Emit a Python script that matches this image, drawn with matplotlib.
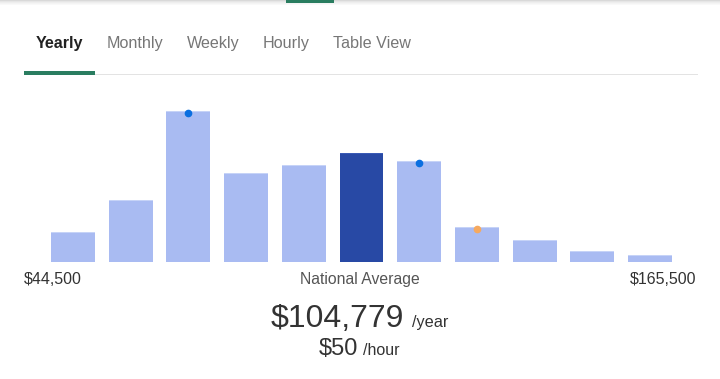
import matplotlib
matplotlib.use('Agg')
import matplotlib.pyplot as plt
from matplotlib.patches import Rectangle

# salary distribution (relative bar heights)
bar_heights = [30, 62, 151, 89, 97, 109, 101, 35, 22, 11, 7]
highlight_bar = 5
blue_dots = [2, 6]
orange_dots = [7]

tabs = ['Yearly', 'Monthly', 'Weekly', 'Hourly', 'Table View']
tab_x = [36, 107, 187, 263, 333]
low_label = '$44,500'
high_label = '$165,500'
avg_year = '$104,779'
avg_hour = '$50'

W, H = 720, 379
light = '#a9bbf2'
dark = '#2849a5'
green = '#2a7d60'
gray_text = '#767676'
dark_text = '#333333'

plt.rcParams['font.family'] = ['Liberation Sans', 'DejaVu Sans']

fig = plt.figure(figsize=(W / 100, H / 100), dpi=100)
fig.patch.set_facecolor('white')


def fx(px):
    return px / W


def fy(py):
    return 1 - py / H


def rect(x, y, w, h, color):
    fig.add_artist(Rectangle((fx(x), fy(y + h)), w / W, h / H,
                             transform=fig.transFigure, color=color, lw=0))


# top shadow and active page marker
for i, c in enumerate(['#d9d9d9', '#e6e6e6', '#eeeeee', '#f4f4f4', '#f9f9f9']):
    rect(0, i, W, 1, c)
rect(286, 0, 48, 3, green)

# tabs
for name, x in zip(tabs, tab_x):
    active = name == 'Yearly'
    fig.text(fx(x), fy(48), name, fontsize=11.6,
             color='#222222' if active else gray_text,
             fontweight='bold' if active else 'normal',
             ha='left', va='baseline')
rect(24, 74, 674, 1.2, '#e3e3e3')
rect(24, 71, 71, 4, green)

# bars
ax = fig.add_axes([fx(44), fy(262), (679 - 44) / W, 160 / H])
xs = list(range(len(bar_heights)))
colors = [dark if i == highlight_bar else light for i in xs]
ax.bar(xs, bar_heights, width=0.76, color=colors, edgecolor='none')
ax.bar(xs, [1] * len(xs), bottom=[h - 1 for h in bar_heights], width=0.76,
       color=['#3a5ab5' if i == highlight_bar else '#c6d3f7' for i in xs],
       edgecolor='none')
ax.plot(blue_dots, [bar_heights[i] - 1.5 for i in blue_dots], 'o',
        color='#0b6fe0', markersize=4.5)
ax.plot(orange_dots, [bar_heights[i] - 1.5 for i in orange_dots], 'o',
        color='#f6a95f', markersize=4.5)
ax.set_xlim(-0.5, len(bar_heights) - 0.5)
ax.set_ylim(0, 160)
ax.axis('off')

# range labels
fig.text(fx(24), fy(284), low_label, fontsize=11.5, color=dark_text,
         ha='left', va='baseline')
fig.text(fx(360), fy(284), 'National Average', fontsize=11.3,
         color='#555555', ha='center', va='baseline')
fig.text(fx(696), fy(284), high_label, fontsize=11.5, color=dark_text,
         ha='right', va='baseline')

# averages
fig.text(fx(404), fy(327), avg_year, fontsize=23, color=dark_text,
         ha='right', va='baseline')
fig.text(fx(412), fy(327), '/year', fontsize=11.7, color=dark_text,
         ha='left', va='baseline')
fig.text(fx(358), fy(355), avg_hour, fontsize=17, color=dark_text,
         ha='right', va='baseline')
fig.text(fx(363), fy(355), '/hour', fontsize=11.5, color=dark_text,
         ha='left', va='baseline')

fig.savefig('out.png', dpi=100, facecolor='white')
